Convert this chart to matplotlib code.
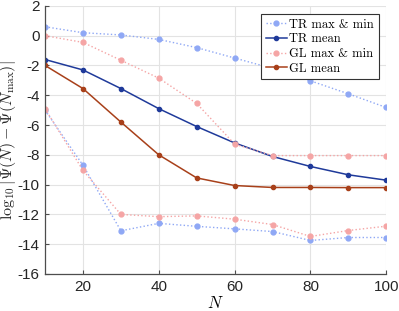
import numpy as np
import matplotlib
import matplotlib.pyplot as plt

plt.rcParams["mathtext.fontset"] = "cm"
plt.rcParams["font.family"] = ["Liberation Sans", "DejaVu Sans"]

# ---------------- data ----------------
N = [10, 20, 30, 40, 50, 60, 70, 80, 90, 100]

tr_max = [0.6, 0.2, 0.05, -0.25, -0.8, -1.5, -2.2, -3.03, -3.9, -4.82]
tr_min = [-5.0, -8.7, -13.1, -12.6, -12.8, -12.97, -13.15, -13.75, -13.55, -13.55]
tr_mean = [-1.6, -2.3, -3.55, -4.9, -6.1, -7.2, -8.11, -8.78, -9.34, -9.7]

gl_max = [0.0, -0.45, -1.65, -2.85, -4.55, -7.28, -8.05, -8.05, -8.05, -8.05]
gl_min = [-4.9, -9.05, -12.0, -12.15, -12.1, -12.32, -12.68, -13.48, -13.08, -12.79]
gl_mean = [-2.0, -3.55, -5.8, -8.0, -9.55, -10.06, -10.19, -10.19, -10.2, -10.2]

labels = ["TR max & min", "TR mean", "GL max & min", "GL mean"]

# ---------------- style ----------------
tr_light = "#8fa8f5"
tr_dark = "#1f3a9a"
gl_light = "#f5a5a5"
gl_dark = "#a8401a"

fig = plt.figure(figsize=(3.99, 3.11), dpi=100)
ax = fig.add_axes([0.113, 0.119, 0.855, 0.862])

ms = 3.5
ax.plot(N, tr_max, ls=":", color=tr_light, marker="o", ms=ms, lw=1.0, label=labels[0])
ax.plot(N, tr_min, ls=":", color=tr_light, marker="o", ms=ms, lw=1.0)
ax.plot(N, tr_mean, ls="-", color=tr_dark, marker="o", ms=ms - 0.5, lw=1.1, label=labels[1])
ax.plot(N, gl_max, ls=":", color=gl_light, marker="o", ms=ms, lw=1.0, label=labels[2])
ax.plot(N, gl_min, ls=":", color=gl_light, marker="o", ms=ms, lw=1.0)
ax.plot(N, gl_mean, ls="-", color=gl_dark, marker="o", ms=ms - 0.5, lw=1.1, label=labels[3])

ax.set_xlim(10, 100)
ax.set_ylim(-16, 2)
ax.set_xticks([20, 40, 60, 80, 100])
ax.set_yticks(np.arange(-16, 3, 2))
ax.set_yticklabels([str(v) for v in range(-16, 3, 2)])

ax.grid(True, color="#e3e3e3", lw=0.8)
ax.set_axisbelow(True)
for s in ["top", "right"]:
    ax.spines[s].set_visible(False)
for s in ["left", "bottom"]:
    ax.spines[s].set_color("#4d4d4d")
    ax.spines[s].set_linewidth(0.9)
ax.tick_params(direction="in", length=3, color="#4d4d4d", labelsize=11,
               labelcolor="#262626", pad=4)

ax.set_xlabel(r"$N$", fontsize=12, labelpad=1)
ax.set_ylabel(r"$\log_{10}|\Psi(N)-\Psi(N_{\max})|$", fontsize=11.5, color="#262626")
ax.yaxis.set_label_coords(-0.078, 0.5)

leg = ax.legend(loc="upper right", bbox_to_anchor=(0.985, 0.978),
                prop={"family": "cmr10", "size": 9},
                fancybox=False, framealpha=1, edgecolor="#333333",
                handlelength=1.7, handletextpad=0.2, borderpad=0.35,
                labelspacing=0.2, borderaxespad=0.2)
leg.get_frame().set_linewidth(0.8)

fig.savefig("out.png", dpi=100)
